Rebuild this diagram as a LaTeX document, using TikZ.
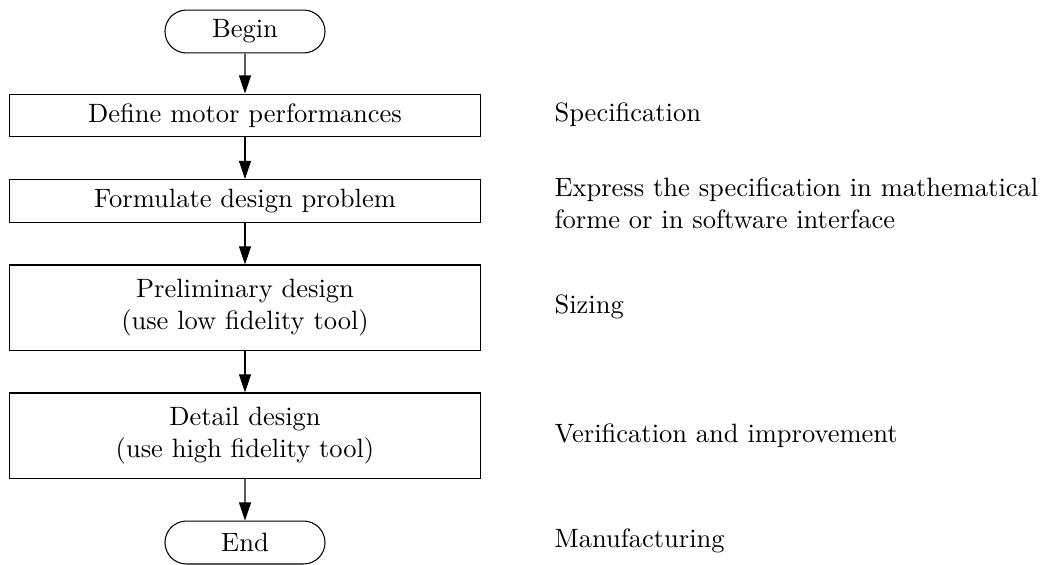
\documentclass[tikz,border=0pt]{standalone}
\usetikzlibrary{shapes.misc,arrows.meta}
\begin{document}
\begin{tikzpicture}[x=0.37736pt,y=-0.37736pt,
  box/.style={draw, rectangle, minimum width=177.7pt, minimum height=16.2pt, inner sep=0pt, align=center, line width=0.4pt},
  tallbox/.style={box, minimum height=32.1pt},
  term/.style={draw, rounded rectangle, minimum width=60.4pt, minimum height=16.2pt, inner sep=0pt, line width=0.4pt},
  note/.style={anchor=west, align=left, inner sep=0pt},
  arr/.style={-{Triangle[length=6.8pt,width=4.5pt]}, line width=0.4pt}]
\useasboundingbox (0,0) rectangle (1048,564);
\node[term] (begin) at (245,31.5) {Begin};
\node[box] (define) at (245,115.5) {Define motor performances};
\node[box] (formulate) at (245,201) {Formulate design problem};
\node[tallbox] (prelim) at (245,307.5) {Preliminary design\\(use low fidelity tool)};
\node[tallbox] (detail) at (245,435.5) {Detail design\\(use high fidelity tool)};
\node[term] (end) at (245,542.5) {End};
\draw[arr] (begin) -- (define);
\draw[arr] (define) -- (formulate);
\draw[arr] (formulate) -- (prelim);
\draw[arr] (prelim) -- (detail);
\draw[arr] (detail) -- (end);
\node[note] (n1) at (554,115) {Specification};
\node[note] (n2) at (554,203) {Express the specification in mathematical\\forme or in software interface};
\node[note] (n3) at (554,307) {Sizing};
\node[note] (n4) at (554,435.5) {Verification and improvement};
\node[note] (n5) at (554,541) {Manufacturing};
\end{tikzpicture}
\end{document}
